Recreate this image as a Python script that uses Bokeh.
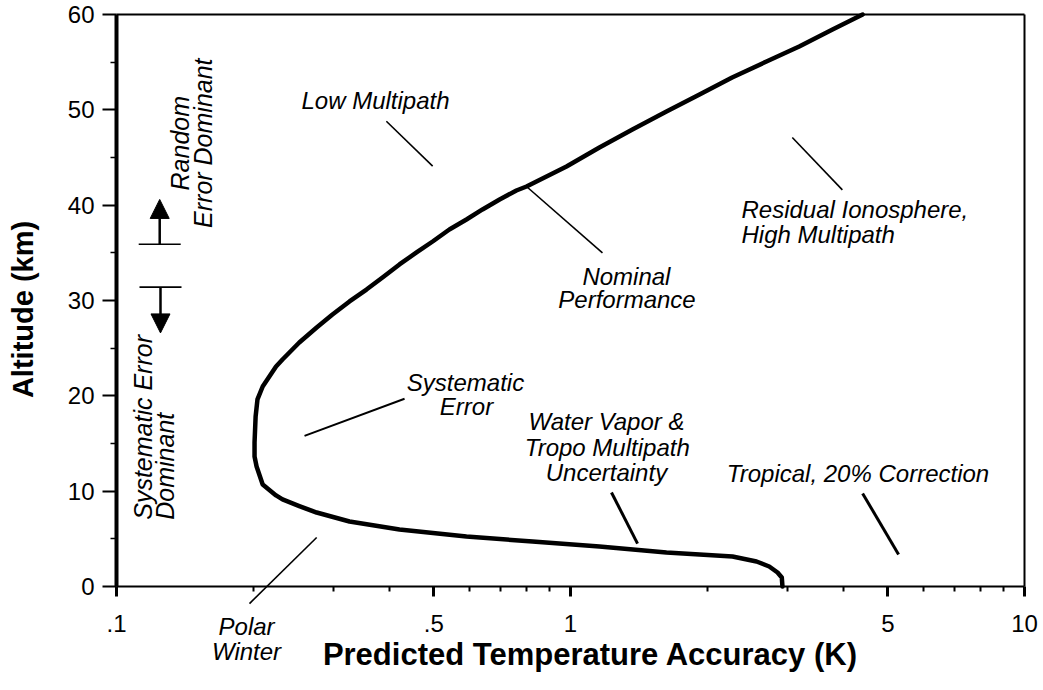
import math
from bokeh.plotting import figure
from bokeh.models import (Range1d, FixedTicker, Label, Arrow, NormalHead, TeeHead,
                          LogAxis, LinearAxis)
from bokeh.embed import file_html
from bokeh.resources import INLINE

# ---- data ----
accuracy_K = [4.40, 3.777, 3.19, 2.702, 2.27, 1.924, 1.627, 1.369, 1.158, 0.980,
              0.800, 0.760, 0.698, 0.640, 0.590, 0.541, 0.497, 0.458, 0.420, 0.3854,
              0.3553, 0.326, 0.299, 0.276, 0.2527, 0.2321, 0.2246, 0.2099, 0.2044,
              0.2025, 0.2014, 0.2014, 0.2035, 0.2099, 0.2246, 0.2321, 0.2527, 0.276,
              0.326, 0.420, 0.590, 0.825, 1.158, 1.627, 1.924, 2.274, 2.569, 2.74,
              2.858, 2.92, 2.93]
altitude_km = [60.0, 58.43, 56.64, 55.07, 53.39, 51.61, 49.83, 47.94, 46.05, 44.06,
               41.96, 41.54, 40.6, 39.55, 38.50, 37.45, 36.19, 35.04, 33.78, 32.41,
               31.15, 29.90, 28.53, 27.17, 25.59, 23.81, 23.08, 20.98, 19.62,
               17.83, 15.11, 13.64, 12.59, 10.70, 9.55, 9.13, 8.44, 7.76,
               6.82, 5.98, 5.24, 4.72, 4.20, 3.57, 3.36, 3.15, 2.62, 2.10,
               1.47, 0.94, 0.0]

x_bounds = [0.1, 10]
y_bounds = [0, 60]
x_ticks = [0.1, 0.5, 1, 5, 10]
x_tick_labels = [".1", ".5", "1", "5", "10"]
x_minor = [0.2, 0.3, 0.4, 0.6, 0.7, 0.8, 0.9, 2, 3, 4, 6, 7, 8, 9]
y_ticks = [0, 10, 20, 30, 40, 50, 60]
y_minor = [5, 15, 25, 35, 45, 55]

x_title = "Predicted Temperature Accuracy (K)"
y_title = "Altitude (km)"
x_title_pos = [1.1067, -7.13]
y_title_pos = [0.0621, 29.06]

# annotation texts (data coordinates)
note_text = ["Low Multipath", "Nominal", "Performance", "Residual Ionosphere,",
             "High Multipath", "Systematic", "Error", "Water Vapor &",
             "Tropo Multipath", "Uncertainty", "Tropical, 20% Correction",
             "Polar", "Winter"]
note_x = [0.372, 1.328, 1.332, 2.38, 2.38, 0.587, 0.590, 1.20, 1.205, 1.20, 2.21, 0.1934, 0.1934]
note_y = [51.0, 32.5, 30.1, 39.5, 36.9, 21.4, 18.9, 17.3, 14.6, 12.0, 11.85, -4.2, -6.8]
note_align = ["center", "center", "center", "left", "left", "center", "center",
              "center", "center", "center", "left", "center", "center"]

vnote_text = ["Random", "Error Dominant", "Systematic Error", "Dominant"]
vnote_x = [0.1377, 0.1547, 0.1141, 0.1282]
vnote_y = [46.5, 46.5, 7.0, 7.0]
vnote_align = ["center", "center", "left", "left"]

# leader lines
lead_x0 = [0.393, 0.80, 3.08, 0.431, 1.231, 4.40, 0.276]
lead_y0 = [48.8, 41.96, 47.1, 19.7, 9.86, 9.76, 5.14]
lead_x1 = [0.497, 1.176, 3.97, 0.2595, 1.405, 5.28, 0.1963]
lead_y1 = [44.1, 35.0, 41.6, 15.8, 4.5, 3.36, -1.8]
lead_w = [1.6, 1.6, 1.6, 2.0, 3.0, 3.0, 1.6]

# regime arrows: x, bar altitude, tip altitude
arrow_up = [0.1245, 35.9, 40.6]
arrow_down = [0.125, 31.4, 26.6]

FONT = "Liberation Sans"

# ---- layout: the frame fills the canvas, axes are pinned inside it ----
CANVAS_W, CANVAS_H = 1040, 686
AXIS_LEFT_PX, AXIS_BOTTOM_PX = 116, 586      # canvas pixel of x=0.1 and y=0
DECADE_PX = 454.0                             # pixels per decade on x
KM_PX = 572.0 / 60.0                          # pixels per km on y
lx0 = math.log10(x_bounds[0]) - AXIS_LEFT_PX / DECADE_PX
lx1 = lx0 + CANVAS_W / DECADE_PX
y1 = y_bounds[0] + AXIS_BOTTOM_PX / KM_PX
y0 = y1 - CANVAS_H / KM_PX

p = figure(x_axis_type="log", x_range=Range1d(10 ** lx0, 10 ** lx1),
           y_range=Range1d(y0, y1),
           frame_width=CANVAS_W, frame_height=CANVAS_H,
           min_border=0, min_border_left=0, min_border_right=0,
           min_border_top=0, min_border_bottom=0,
           output_backend="svg", toolbar_location=None,
           background_fill_color="white", border_fill_color="white")
p.grid.visible = False
p.outline_line_color = None

xa = p.xaxis[0]
xa.fixed_location = y_bounds[0]
xa.bounds = tuple(x_bounds)
xa.ticker = FixedTicker(ticks=x_ticks, minor_ticks=x_minor)
xa.major_label_overrides = dict(zip([float(t) for t in x_ticks], x_tick_labels))
xa.axis_line_width = 2
xa.major_tick_out = 10
xa.major_tick_in = 0
xa.minor_tick_out = 5
xa.minor_tick_in = 0
xa.major_tick_line_width = 3
xa.minor_tick_line_width = 2
xa.major_label_standoff = 18

ya = p.yaxis[0]
ya.fixed_location = x_bounds[0]
ya.bounds = tuple(y_bounds)
ya.ticker = FixedTicker(ticks=y_ticks, minor_ticks=y_minor)
ya.axis_line_width = 4
ya.major_tick_out = 14
ya.major_tick_in = 0
ya.minor_tick_out = 6
ya.minor_tick_in = 0
ya.major_tick_line_width = 2
ya.minor_tick_line_width = 1.5
ya.major_label_standoff = 8

for ax in (xa, ya):
    ax.axis_line_color = "black"
    ax.major_tick_line_color = "black"
    ax.minor_tick_line_color = "black"
    ax.major_label_text_font = FONT
    ax.major_label_text_font_size = "24px"
    ax.major_label_text_color = "black"

# top and right frame lines
top = LogAxis(ticker=FixedTicker(ticks=[]), fixed_location=y_bounds[1],
              bounds=tuple(x_bounds), axis_line_width=2, axis_line_color="black",
              major_tick_line_color=None, minor_tick_line_color=None)
p.add_layout(top, "above")
right = LinearAxis(ticker=FixedTicker(ticks=[]), fixed_location=x_bounds[1],
                   bounds=tuple(y_bounds), axis_line_width=2, axis_line_color="black",
                   major_tick_line_color=None, minor_tick_line_color=None)
p.add_layout(right, "right")

# axis titles
p.add_layout(Label(x=x_title_pos[0], y=x_title_pos[1], text=x_title,
                   text_align="center", text_baseline="middle", text_font=FONT,
                   text_font_style="bold", text_font_size="31px", text_color="black"))
p.add_layout(Label(x=y_title_pos[0], y=y_title_pos[1], text=y_title, angle=math.pi / 2,
                   text_align="center", text_baseline="middle", text_font=FONT,
                   text_font_style="bold", text_font_size="29px", text_color="black"))

p.line(accuracy_K, altitude_km, line_width=4.5, line_color="black",
       line_join="round", line_cap="round")

p.segment(x0=lead_x0, y0=lead_y0, x1=lead_x1, y1=lead_y1,
          line_width=lead_w, line_color="black")

for a in (arrow_up, arrow_down):
    p.add_layout(Arrow(start=TeeHead(size=42, line_width=1.6, line_color="black"),
                       end=NormalHead(size=19, fill_color="black", line_color="black"),
                       x_start=a[0], y_start=a[1], x_end=a[0], y_end=a[2],
                       line_width=2.5, line_color="black"))

for t, x, y, al in zip(note_text, note_x, note_y, note_align):
    p.add_layout(Label(x=x, y=y, text=t, text_align=al, text_baseline="middle",
                       text_font=FONT, text_font_style="italic",
                       text_font_size="24px", text_color="black"))

for t, x, y, al in zip(vnote_text, vnote_x, vnote_y, vnote_align):
    p.add_layout(Label(x=x, y=y, text=t, text_align=al, text_baseline="middle",
                       angle=math.pi / 2, text_font=FONT, text_font_style="italic",
                       text_font_size="25px", text_color="black"))

open("out.html", "w").write(file_html(p, INLINE))
